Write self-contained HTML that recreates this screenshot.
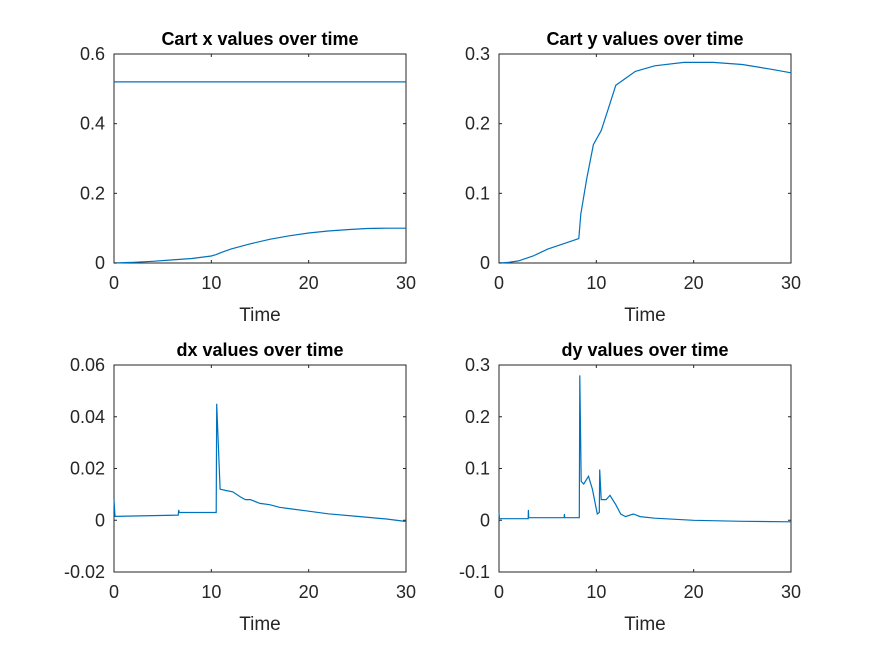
<!DOCTYPE html>
<html><head><meta charset="utf-8"><style>
body{margin:0;background:#fff;}
svg{display:block;font-family:"Liberation Sans",Arial,sans-serif;}
</style></head><body>
<svg id="fig" width="875" height="656" viewBox="0 0 875 656"></svg>
<script>
// data
const tX1=[0,30];const vX1=[0.52,0.52];
const tX2=[0,2,4,6,8,10,10.5,11,12,14,16,18,20,22,24,26,28,30];
const vX2=[0,0.002,0.005,0.009,0.013,0.02,0.024,0.03,0.04,0.055,0.068,0.078,0.086,0.092,0.096,0.099,0.1,0.1];
const tY=[0,1,2,3.5,5,6.5,8.2,8.4,9,9.7,10.5,11.2,12,13,14,16,19,22,25,28,30];
const vY=[0,0.001,0.003,0.01,0.02,0.027,0.035,0.07,0.12,0.17,0.19,0.22,0.255,0.265,0.275,0.283,0.288,0.288,0.285,0.278,0.273];
const tDX=[0,0.1,6.6,6.65,6.7,10.5,10.55,10.9,11.5,12.2,13,13.5,14,15,16,17,18,20,22,25,28,30];
const vDX=[0.008,0.0015,0.002,0.004,0.003,0.003,0.045,0.012,0.0115,0.011,0.009,0.008,0.008,0.0065,0.006,0.005,0.0045,0.0035,0.0025,0.0015,0.0005,-0.0005];
const tDY=[0,0.05,3,3.02,3.05,6.7,6.72,6.75,8.25,8.3,8.45,8.7,9.2,9.6,10.1,10.3,10.35,10.5,11,11.4,12,12.5,13,13.8,14.5,16,20,25,30];
const vDY=[0.015,0.003,0.003,0.02,0.005,0.005,0.012,0.005,0.005,0.28,0.075,0.07,0.085,0.06,0.012,0.015,0.098,0.04,0.04,0.048,0.03,0.012,0.007,0.012,0.007,0.004,0,-0.002,-0.003];
const xTicks=[0,10,20,30];

const NS="http://www.w3.org/2000/svg";
const svg=document.getElementById('fig');
function mk(tag,attrs,parent){const e=document.createElementNS(NS,tag);for(const k in attrs)e.setAttribute(k,attrs[k]);(parent||svg).appendChild(e);return e;}
function panel(name,box,yMin,yMax,yTicks,yLabels,title,series){
  const [L,T,R,B]=box;
  const g=mk('g',{});
  
  
  const sx=t=>L+(t-0)/30*(R-L);
  const sy=v=>B-(v-yMin)/(yMax-yMin)*(B-T);
  const frame=mk('rect',{x:L,y:T,width:R-L,height:B-T,fill:'#fff',stroke:'#262626','stroke-width':1},g);
  
  
  series.forEach(([ts,vs],i)=>{
    const d=ts.map((t,j)=>(j?'L':'M')+sx(t).toFixed(1)+' '+sy(vs[j]).toFixed(1)).join(' ');
    const p=mk('path',{d:d,fill:'none',stroke:'#0072bd','stroke-width':1.2},g);
    
    
  });
  xTicks.forEach(t=>{
    const x=sx(t);
    mk('line',{x1:x,y1:B,x2:x,y2:B-3,stroke:'#262626'},g);
    mk('line',{x1:x,y1:T,x2:x,y2:T+3,stroke:'#262626'},g);
    const tx=mk('text',{x:x,y:B+26,'text-anchor':'middle','font-size':18,fill:'#262626'},g);
    tx.textContent=t;
    
    
  });
  yTicks.forEach((v,i)=>{
    const y=sy(v);
    mk('line',{x1:L,y1:y,x2:L+3,y2:y,stroke:'#262626'},g);
    mk('line',{x1:R,y1:y,x2:R-3,y2:y,stroke:'#262626'},g);
    const ty=mk('text',{x:L-9,y:y+6,'text-anchor':'end','font-size':18,fill:'#262626'},g);
    ty.textContent=yLabels[i];
    
    
  });
  const ti=mk('text',{x:(L+R)/2,y:T-9,'text-anchor':'middle','font-size':18,'font-weight':'bold',fill:'#000'},g);
  ti.textContent=title;
  
  
  const xl=mk('text',{x:(L+R)/2,y:B+58,'text-anchor':'middle','font-size':19,fill:'#262626'},g);
  xl.textContent='Time';
  
  
}
panel('cart-x-panel',[114,54,406,263],0,0.6,[0,0.2,0.4,0.6],['0','0.2','0.4','0.6'],'Cart x values over time',[[tX1,vX1],[tX2,vX2]]);
panel('cart-y-panel',[499,54,791,263],0,0.3,[0,0.1,0.2,0.3],['0','0.1','0.2','0.3'],'Cart y values over time',[[tY,vY]]);
panel('dx-panel',[114,365,406,572],-0.02,0.06,[-0.02,0,0.02,0.04,0.06],['-0.02','0','0.02','0.04','0.06'],'dx values over time',[[tDX,vDX]]);
panel('dy-panel',[499,365,791,572],-0.1,0.3,[-0.1,0,0.1,0.2,0.3],['-0.1','0','0.1','0.2','0.3'],'dy values over time',[[tDY,vDY]]);
</script>
</body></html>
